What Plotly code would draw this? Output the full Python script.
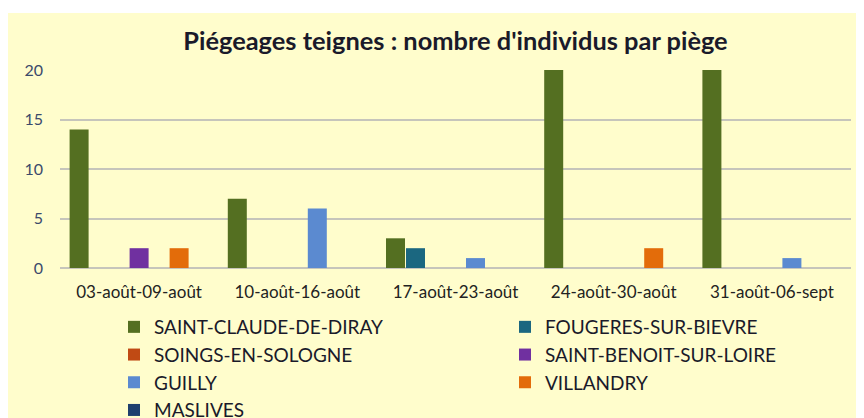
import plotly.graph_objects as go

categories = ["03-août-09-août", "10-août-16-août", "17-août-23-août", "24-août-30-août", "31-août-06-sept"]
saint_claude = [14, 7, 3, 20, 20]
fougeres = [0, 0, 2, 0, 0]
soings = [0, 0, 0, 0, 0]
saint_benoit = [2, 0, 0, 0, 0]
guilly = [0, 6, 1, 0, 1]
villandry = [2, 0, 0, 2, 0]
maslives = [0, 0, 0, 0, 0]
y_ticks = [0, 5, 10, 15, 20]

series = [
    ("SAINT-CLAUDE-DE-DIRAY", saint_claude, "#546f21"),
    ("FOUGERES-SUR-BIEVRE", fougeres, "#1b6780"),
    ("SOINGS-EN-SOLOGNE", soings, "#c04a14"),
    ("SAINT-BENOIT-SUR-LOIRE", saint_benoit, "#7030a0"),
    ("GUILLY", guilly, "#5b8ad0"),
    ("VILLANDRY", villandry, "#e36c0a"),
    ("MASLIVES", maslives, "#1f3f6e"),
]

fig = go.Figure()
for name, vals, col in series:
    fig.add_trace(go.Bar(name=name, x=categories, y=vals, marker=dict(color=col, line=dict(width=0))))

# page has an 8px body margin: figure sits at (8, 8)
W, H = 856, 410
L, R, T, B = 52, 13, 62, 150
pw, ph = W - L - R, H - T - B

fig.update_layout(
    width=W, height=H,
    margin=dict(l=L, r=R, t=T, b=B, autoexpand=False),
    paper_bgcolor="#fffdcc",
    plot_bgcolor="#fffdcc",
    barmode="group",
    bargap=0.115,
    bargroupgap=0.05,
    font=dict(family="Lato, Open Sans, sans-serif", size=14, color="#222222"),
    title=dict(text="<b>Piégeages teignes : nombre d'individus par piège</b>",
               x=447.5 / W, xanchor="center", y=1 - 33 / H, yanchor="middle",
               font=dict(size=25.4, color="#1a1a2a")),
    xaxis=dict(showgrid=False, showline=False, ticks="", automargin=False,
               ticklabelstandoff=12,
               tickfont=dict(size=17, color="#222222")),
    yaxis=dict(range=[0, 20], tickvals=y_ticks, showgrid=True, gridcolor="#c6c5bb", gridwidth=2,
               zeroline=True, zerolinecolor="#c6c5bb", zerolinewidth=2, showline=False,
               ticks="", ticklabelstandoff=16, automargin=False,
               tickfont=dict(size=16, color="#3b4a6b")),
    legend=dict(orientation="h",
                x=(106 - L) / pw, y=-(300 - (T + ph)) / ph, xanchor="left", yanchor="top",
                entrywidth=346, entrywidthmode="pixels",
                font=dict(size=19, color="#1a1a2a"), bgcolor="rgba(0,0,0,0)",
                traceorder="normal"),
    showlegend=True,
    shapes=[
        dict(type="rect", xref="paper", yref="paper",
             x0=-L / pw - 0.01, x1=1 + R / pw + 0.01,
             y0=1 + (T - 5) / ph, y1=1 + T / ph + 0.01,
             fillcolor="white", line=dict(width=0), layer="below"),
    ],
)

fig.write_html("out.html")
